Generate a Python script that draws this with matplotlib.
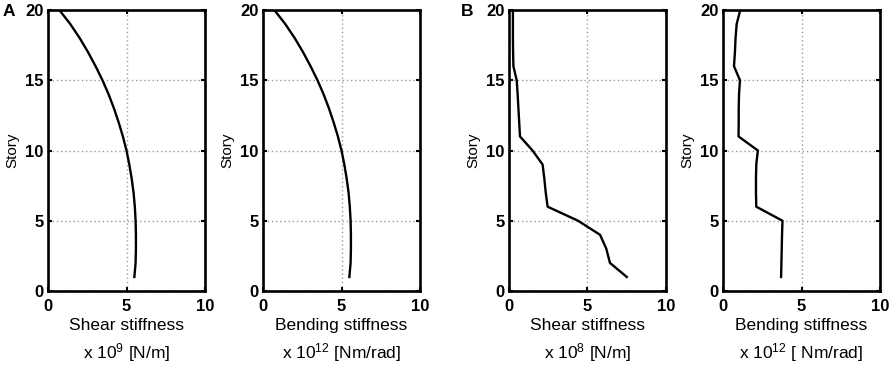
import matplotlib.pyplot as plt

plt.rcParams['font.family'] = ['Liberation Sans', 'DejaVu Sans']
plt.rcParams['mathtext.fontset'] = 'custom'
plt.rcParams['mathtext.rm'] = 'Liberation Sans'
plt.rcParams['mathtext.it'] = 'Liberation Sans'

# Story numbers (1 = ground floor)
stories = list(range(1, 21))

# Panel A: smoothly varying stiffness profiles
shear_a = [5.50, 5.58, 5.60, 5.60, 5.58, 5.53, 5.45, 5.33, 5.18, 5.00,
           4.77, 4.50, 4.20, 3.86, 3.47, 3.03, 2.55, 2.02, 1.42, 0.72]
bending_a = [5.50, 5.58, 5.60, 5.60, 5.58, 5.53, 5.45, 5.33, 5.18, 5.00,
             4.77, 4.50, 4.20, 3.86, 3.47, 3.03, 2.55, 2.02, 1.42, 0.72]

# Panel B: stepped stiffness profiles
shear_b = [7.50, 6.43, 6.20, 5.80, 4.40, 2.46, 2.34, 2.25, 2.14, 1.50,
           0.70, 0.65, 0.60, 0.55, 0.49, 0.28, 0.26, 0.25, 0.25, 0.25]
bending_b = [3.70, 3.72, 3.74, 3.76, 3.79, 2.12, 2.10, 2.10, 2.12, 2.22,
             0.99, 1.00, 1.00, 1.02, 1.08, 0.70, 0.76, 0.80, 0.87, 1.10]

xlabels = [r'Shear stiffness' + '\n' + r'x 10$^{9}$ [N/m]',
           r'Bending stiffness' + '\n' + r'x 10$^{12}$ [Nm/rad]',
           r'Shear stiffness' + '\n' + r'x 10$^{8}$ [N/m]',
           r'Bending stiffness' + '\n' + r'x 10$^{12}$ [ Nm/rad]']
series = [shear_a, bending_a, shear_b, bending_b]
xticks = [0, 5, 10]
yticks = [0, 5, 10, 15, 20]

fig = plt.figure(figsize=(8.91, 3.65), dpi=100)
lefts = [48, 263, 509, 723]
W, H = 891, 365

for left, vals, xl in zip(lefts, series, xlabels):
    ax = fig.add_axes([left / W, 74 / H, 157 / W, 281 / H])
    ax.plot(vals, stories, color='black', lw=1.7)
    ax.set_xlim(0, 10)
    ax.set_ylim(0, 20)
    ax.set_xticks(xticks)
    ax.set_yticks(yticks)
    ax.grid(True, color='#9a9a9a', linestyle=(0, (1, 2)), linewidth=1.0)
    ax.tick_params(direction='in', length=3, width=1.5, top=True, right=True,
                   labelsize=12)
    ax.tick_params(axis='x', pad=6)
    ax.tick_params(axis='y', pad=3)
    for lab in ax.get_xticklabels() + ax.get_yticklabels():
        lab.set_fontweight('bold')
    for s in ax.spines.values():
        s.set_linewidth(1.9)
    ax.set_xlabel(xl, fontsize=12.5, linespacing=1.5, labelpad=2.5)
    ax.set_ylabel('Story', fontsize=11, labelpad=4.5)

fig.text(3 / W, 1 - 11 / H, 'A', fontsize=12.5, fontweight='bold', va='center', ha='left')
fig.text(461 / W, 1 - 11 / H, 'B', fontsize=12.5, fontweight='bold', va='center', ha='left')

fig.savefig('out.png', dpi=100)
